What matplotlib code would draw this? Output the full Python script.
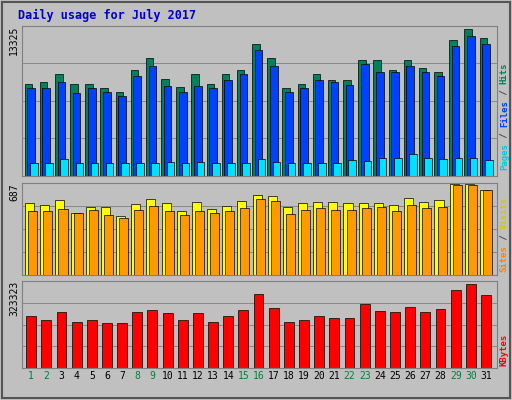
import matplotlib
matplotlib.use("Agg")
import matplotlib.pyplot as plt
import numpy as np

days = list(range(1, 32))
hits_px = [84,82,74,84,84,88,92,70,58,79,87,74,84,74,70,44,58,88,84,74,80,80,60,60,70,60,68,72,40,29,38]
files_px = [88,88,82,93,88,92,96,76,66,86,92,86,88,80,74,50,66,92,88,80,82,85,64,72,72,66,72,76,46,36,44]
pages_px = [163,163,159,163,163,163,163,163,163,162,163,162,163,163,163,159,162,163,163,163,163,160,161,158,158,154,158,159,158,158,160]
hits = [(176-p)/150*13325 for p in hits_px]
files = [(176-p)/150*13325 for p in files_px]
pages = [(176-p)/150*13325 for p in pages_px]
visits_px = [203,205,200,213,207,207,216,204,199,203,211,202,209,206,201,195,196,207,203,202,202,203,203,203,205,198,202,200,184,184,190]
sites_px = [211,211,209,213,210,215,218,210,206,211,215,211,213,211,208,199,201,214,210,208,210,210,208,207,211,205,208,207,185,185,190]
visits = [(275-p)/92*687 for p in visits_px]
sites = [(275-p)/92*687 for p in sites_px]
kb_px = [316,320,312,322,320,323,323,312,310,313,320,313,322,316,310,294,308,322,320,316,318,318,304,311,312,307,312,309,290,284,295]
kbytes = [(368-p)/87*323323 for p in kb_px]
weekends = {1,2,8,9,15,16,22,23,29,30}

fig = plt.figure(figsize=(5.12, 4.0), dpi=100)
fig.patch.set_facecolor('#C0C0C0')
fig.add_artist(plt.Rectangle((0.004,0.004),0.992,0.992, transform=fig.transFigure, fill=False, ec='#555555', lw=1.5))
fig.text(0.035, 0.962, "Daily usage for July 2017", color='#0000CC', fontsize=8.5, fontweight='bold', family='DejaVu Sans Mono', va='center')

x = np.array(days, dtype=float)
L, W = 0.043, 0.927
def mkax(b, h, ymax, tick):
    ax = fig.add_axes([L, b, W, h])
    ax.set_facecolor('#C0C0C0')
    ax.set_xlim(0.4, 31.7)
    ax.set_ylim(0, ymax)
    ax.set_xticks([])
    ax.set_yticks([ymax])
    ax.set_yticklabels([tick], rotation=90, va='top', fontsize=7, family='DejaVu Sans Mono')
    ax.tick_params(axis='y', length=0, pad=2)
    for y in np.linspace(0, ymax, 5)[1:-1]:
        ax.axhline(y, color='#808080', lw=0.6, zorder=0)
    for s in ax.spines.values():
        s.set_color('#808080')
    return ax

def side_label(parts, y0):
    # parts listed bottom-to-top; each chunk placed above the previous one
    renderer = fig.canvas.get_renderer()
    y = y0
    for txt, col in parts:
        t = fig.text(0.985, y, txt, color=col, rotation=90, fontsize=6.5,
                     family='DejaVu Sans Mono', ha='center', va='bottom', fontweight='bold')
        bb = t.get_window_extent(renderer)
        y += bb.height / fig.bbox.height

ax1 = mkax(0.56, 0.375, 13325, "13325")
ax1.bar(x-0.18, hits, 0.5, color='#00805C', ec='black', lw=0.5, zorder=2)
ax1.bar(x, files, 0.5, color='#0040FF', ec='black', lw=0.5, zorder=3)
ax1.bar(x+0.18, pages, 0.5, color='#00E0FF', ec='black', lw=0.5, zorder=4)
side_label([("Pages", '#00C8E0'), (" / ", '#404040'), ("Files", '#0040FF'), (" / ", '#404040'), ("Hits", '#00805C')], 0.575)

ax2 = mkax(0.3125, 0.23, 687, "687")
ax2.bar(x-0.1, visits, 0.6, color='#FFFF00', ec='black', lw=0.5, zorder=2)
ax2.bar(x+0.1, sites, 0.6, color='#FF9900', ec='black', lw=0.5, zorder=3)
side_label([("Sites", '#FF8000'), (" / ", '#404040'), ("Visits", '#E0C000')], 0.32)

ax3 = mkax(0.08, 0.2175, 323323, "323323")
ax3.bar(x, kbytes, 0.65, color='#FF0000', ec='black', lw=0.5, zorder=2)
side_label([("KBytes", '#FF0000')], 0.085)
ax3.set_xticks(x)
ax3.set_xticklabels([str(d) for d in days], fontsize=7, family='DejaVu Sans Mono')
ax3.tick_params(axis='x', length=0, pad=2)
for lab, d in zip(ax3.get_xticklabels(), days):
    lab.set_color('#008040' if d in weekends else 'black')

fig.savefig("out.png", dpi=100, facecolor=fig.get_facecolor())
